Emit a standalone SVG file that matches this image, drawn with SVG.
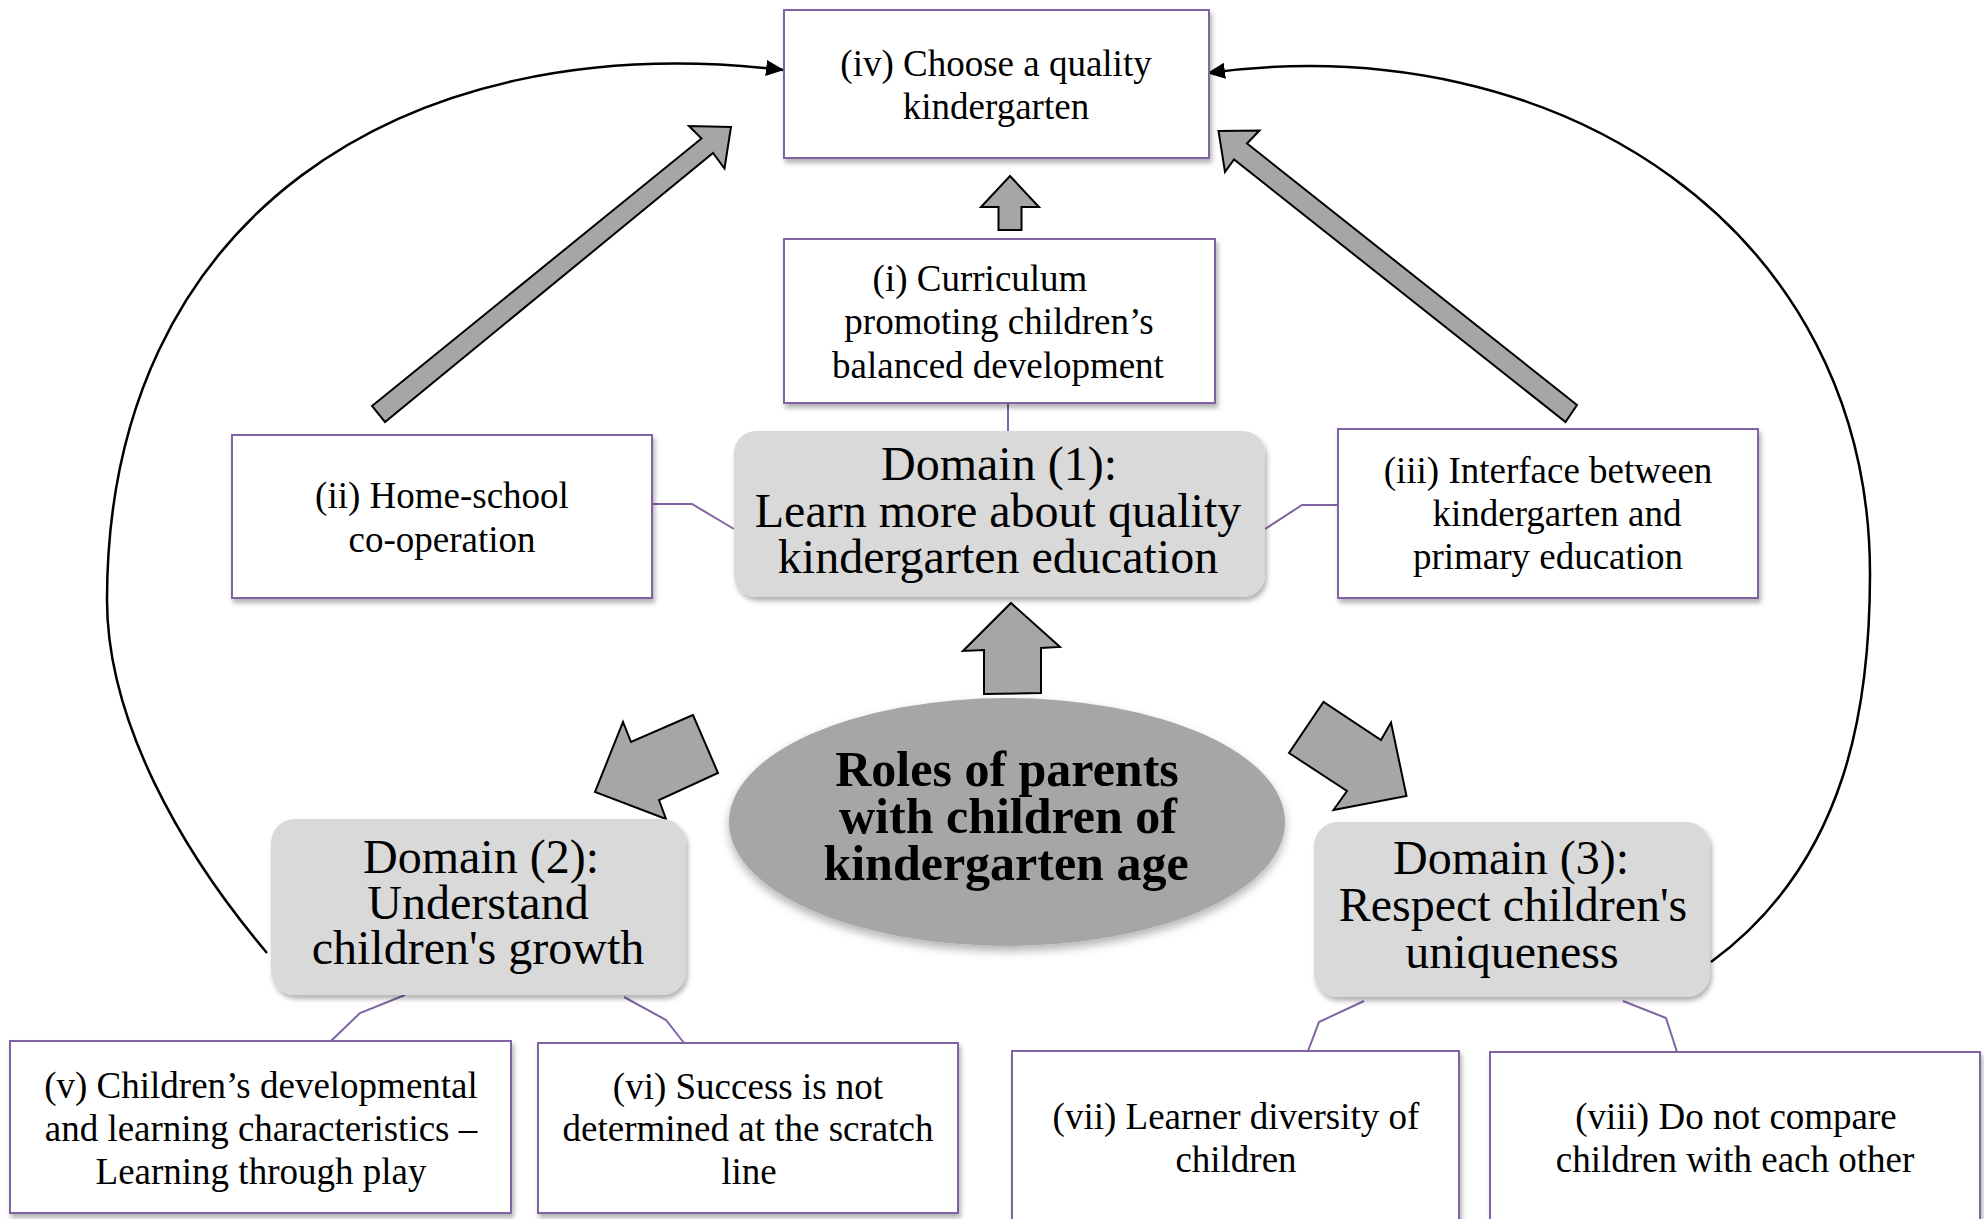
<svg xmlns="http://www.w3.org/2000/svg" width="1984" height="1219" viewBox="0 0 1984 1219">
<defs>
<filter id="sh" x="-10%" y="-10%" width="125%" height="130%">
<feDropShadow dx="2" dy="4" stdDeviation="2.5" flood-color="#000" flood-opacity="0.3"/>
</filter>
<filter id="shE" x="-10%" y="-10%" width="125%" height="130%">
<feDropShadow dx="0" dy="5" stdDeviation="5" flood-color="#000" flood-opacity="0.3"/>
</filter>
<marker id="ah" markerUnits="userSpaceOnUse" markerWidth="18" markerHeight="16" viewBox="0 0 18 16" refX="17" refY="8" orient="auto">
<path d="M0,0 L18,8 L0,16 z" fill="#000"/>
</marker>
</defs>
<style>
.box{fill:#fff;stroke:#8064a2;stroke-width:2;filter:url(#sh)}
.dom{fill:#d9d9d9;filter:url(#sh)}
.t{font-family:"Liberation Serif","Times New Roman",serif;font-size:37px;fill:#000;text-anchor:middle}
.d{font-family:"Liberation Serif","Times New Roman",serif;font-size:48px;fill:#000;text-anchor:middle}
.e{font-family:"Liberation Serif","Times New Roman",serif;font-size:50px;font-weight:bold;fill:#000;text-anchor:middle}
.lk{fill:none;stroke:#8064a2;stroke-width:2}
.cv{fill:none;stroke:#000;stroke-width:2.5;marker-end:url(#ah)}
.ba{fill:#a6a6a6;stroke:#000;stroke-width:2;stroke-linejoin:miter}
</style>

<g id="connectors">
<path class="lk" d="M1008,403 L1008,431"/>
<path class="lk" d="M652,504 L692,504 L734,529"/>
<path class="lk" d="M1338,505 L1302,505 L1265,529"/>
<path class="lk" d="M405,995 L360,1013 L331,1041"/>
<path class="lk" d="M624,997 L666,1020 L684,1043"/>
<path class="lk" d="M1364,1001 L1319,1022 L1308,1051"/>
<path class="lk" d="M1623,1001 L1666,1018 L1677,1052"/>
<path class="cv" d="M267,953 C180,850 107,720 107,600 C107,220 400,25 783,70"/>
<path class="cv" d="M1711,962 C1850,860 1870,700 1870,574 C1870,230 1560,25 1208,73"/>
<polygon class="ba" points="1010,176 1039,207 1021.5,207 1021.5,230 998.5,230 998.5,207 981,207"/>
<polygon class="ba" points="1011,603 1060,647 1041,648 1041,693 984,694 984,650 963,651"/>
<polygon class="ba" points="372,406 701.5,138.5 689,126 731,127 724.5,168.5 713,153 385,422"/>
<polygon class="ba" points="1577,405 1247,143.5 1259.5,130.5 1218.5,131 1225,172 1234,159.5 1565.5,422"/>
<polygon class="ba" points="693,715 631,742 623,722 595,792 666,819 659,800 718,773"/>
<polygon class="ba" points="1289,753 1347,791 1333.5,810 1406.5,796 1391,722.5 1381,740 1323.5,702"/>
</g>

<g id="node-iv">
<rect class="box" x="784" y="10" width="425" height="148"/>
<text class="t" x="996" y="76">(iv) Choose a quality</text>
<text class="t" x="996" y="119">kindergarten</text>
</g>

<g id="node-i">
<rect class="box" x="784" y="239" width="431" height="164"/>
<text class="t" x="980" y="291">(i) Curriculum</text>
<text class="t" x="999" y="334">promoting children’s</text>
<text class="t" x="998" y="378">balanced development</text>
</g>

<g id="node-ii">
<rect class="box" x="232" y="435" width="420" height="163"/>
<text class="t" x="442" y="508">(ii) Home-school</text>
<text class="t" x="442" y="552">co-operation</text>
</g>

<g id="node-iii">
<rect class="box" x="1338" y="429" width="420" height="169"/>
<text class="t" x="1548" y="483">(iii) Interface between</text>
<text class="t" x="1557" y="526">kindergarten and</text>
<text class="t" x="1548" y="569">primary education</text>
</g>

<g id="domain-1">
<rect class="dom" x="734" y="431" width="531" height="166" rx="22"/>
<text class="d" x="999" y="480">Domain (1):</text>
<text class="d" x="998" y="527">Learn more about quality</text>
<text class="d" x="998" y="573">kindergarten education</text>
</g>

<g id="center">
<ellipse cx="1007" cy="822" rx="278" ry="124" fill="#a6a6a6" filter="url(#shE)"/>
<text class="e" x="1007" y="786">Roles of parents</text>
<text class="e" x="1008" y="833">with children of</text>
<text class="e" x="1006" y="880">kindergarten age</text>
</g>

<g id="domain-2">
<rect class="dom" x="271" y="819" width="415" height="176" rx="24"/>
<text class="d" x="481" y="873">Domain (2):</text>
<text class="d" x="478" y="919">Understand</text>
<text class="d" x="478" y="964">children's growth</text>
</g>

<g id="domain-3">
<rect class="dom" x="1314" y="822" width="396" height="175" rx="24"/>
<text class="d" x="1511" y="874">Domain (3):</text>
<text class="d" x="1513" y="921">Respect children's</text>
<text class="d" x="1512" y="968">uniqueness</text>
</g>

<g id="node-v">
<rect class="box" x="10" y="1041" width="501" height="172"/>
<text class="t" x="261" y="1098">(v) Children’s developmental</text>
<text class="t" x="261" y="1141">and learning characteristics –</text>
<text class="t" x="261" y="1184">Learning through play</text>
</g>

<g id="node-vi">
<rect class="box" x="538" y="1043" width="420" height="170"/>
<text class="t" x="748" y="1099">(vi) Success is not</text>
<text class="t" x="748" y="1141">determined at the scratch</text>
<text class="t" x="749" y="1184">line</text>
</g>

<g id="node-vii">
<rect class="box" x="1012" y="1051" width="447" height="190"/>
<text class="t" x="1236" y="1129">(vii) Learner diversity of</text>
<text class="t" x="1236" y="1172">children</text>
</g>

<g id="node-viii">
<rect class="box" x="1490" y="1052" width="490" height="190"/>
<text class="t" x="1736" y="1129">(viii) Do not compare</text>
<text class="t" x="1735" y="1172">children with each other</text>
</g>
</svg>
